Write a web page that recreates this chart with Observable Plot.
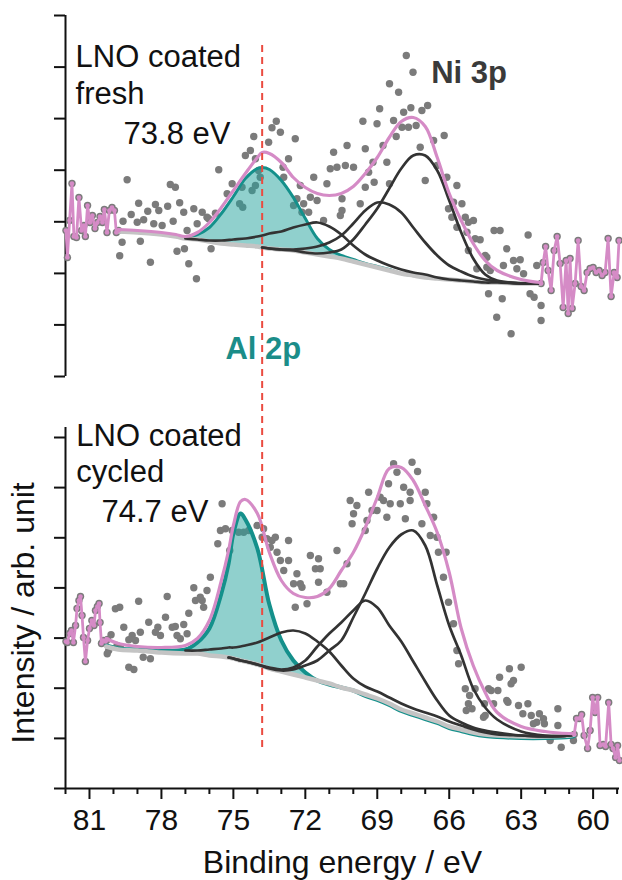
<!DOCTYPE html>
<html><head><meta charset="utf-8">
<script src="https://cdn.jsdelivr.net/npm/d3@7"></script>
<script src="https://cdn.jsdelivr.net/npm/@observablehq/plot@0.6"></script>
<style>
body{margin:0;background:#fff;}
#chart{position:relative;width:622px;height:880px;overflow:hidden;background:#fff;}
#chart svg{display:block;}
</style></head><body><div id="chart"></div>
<script>
// ---------- axis ticks ----------
const xDomain = [82, 58.9];
const xMajorTicks = [81, 78, 75, 72, 69, 66, 63, 60];
const xMinorTicks = [82, 80, 79, 77, 76, 74, 73, 71, 70, 68, 67, 65, 64, 62, 61, 59];
const freshYTicks = [0, 516, 1031, 1547, 2063, 2579, 3094, 3610];
const cycledYTicks = [0, 501, 1003, 1504, 2006, 2507, 3009, 3510];

// ---------- texts ----------
const freshLabels = ["LNO coated", "fresh", "73.8 eV"];
const cycledLabels = ["LNO coated", "cycled", "74.7 eV"];
const niLabel = "Ni 3p";
const alLabel = "Al 2p";
const xTitle = "Binding energy / eV";
const yTitle = "Intensity / arb. unit";

// ---------- LNO coated fresh: fit curves (binding energy eV -> intensity, arb.) ----------
const freshGrid = [79.8, 79, 78, 77.4, 77, 76.5, 76, 75.5, 75, 74.5, 74, 73.8, 73.5, 73, 72.5, 72, 71.5, 71, 70.5, 70, 69.5, 69, 68.5, 68, 67.5, 67, 66.5, 66, 65.5, 65, 64.5, 64, 63, 62.2];
const freshEnvelope = [1470, 1460, 1440, 1420, 1400, 1440, 1540, 1690, 1860, 2030, 2190, 2240, 2230, 2140, 1990, 1890, 1830, 1810, 1830, 1900, 2030, 2190, 2390, 2550, 2590, 2500, 2190, 1830, 1560, 1330, 1160, 1060, 970, 940];
const freshBackground = [1450, 1440, 1420, 1400, 1380, 1370, 1350, 1330, 1320, 1310, 1300, 1290, 1280, 1270, 1260, 1240, 1220, 1200, 1180, 1150, 1120, 1090, 1060, 1030, 1010, 990, 980, 970, 960, 950, 940, 940, 930, 930];
const freshAl2p = [1450, 1440, 1420, 1400, 1390, 1420, 1490, 1630, 1800, 1980, 2080, 2090, 2070, 1960, 1790, 1580, 1380, 1270, 1210, 1170, 1130, 1100, 1070, 1030, 1010, 990, 980, 970, 960, 950, 940, 940, 930, 930];
const freshNi3pA = [null, null, null, null, 1380, 1370, 1360, 1360, 1370, 1380, 1400, 1410, 1430, 1450, 1490, 1520, 1540, 1500, 1420, 1310, 1220, 1160, 1110, 1070, 1040, 1020, 990, 970, 960, 950, 940, 940, 930, 930];
const freshNi3pB = [null, null, null, null, null, null, null, null, null, null, null, 1290, 1280, 1270, 1270, 1280, 1300, 1340, 1410, 1530, 1660, 1740, 1720, 1640, 1490, 1340, 1210, 1110, 1050, 1000, 970, 950, 930, 930];
const freshNi3pC = [null, null, null, null, null, null, null, null, null, null, null, 1290, 1280, 1270, 1260, 1240, 1230, 1240, 1270, 1370, 1520, 1680, 1880, 2080, 2210, 2210, 2060, 1760, 1440, 1180, 1020, 960, 930, 930];

// ---------- LNO coated fresh: measured points [eV, intensity] ----------
const freshPoints = [
[79.43,1967],[77.63,1920],[77.42,1893],[78.95,1733],[78.25,1720],[77.74,1703],[77.24,1737],[79.26,1620],[78.57,1653],[78.11,1660],[76.65,1677],[76.30,1643],[79.60,1553],[79.01,1543],[78.74,1567],[78.32,1527],[77.97,1510],[77.51,1553],[77.07,1643],[76.51,1527],[76.10,1593],[79.64,1343],[78.88,1353],[79.74,1207],[78.46,1143],[77.35,1253],[77.04,1277],[76.86,1127],[76.54,977],[76.93,1460],
[73.21,2553],[73.39,2487],[73.04,2443],[72.42,2377],[74.15,2400],[73.53,2343],[74.50,2210],[74.29,2260],[74.08,2177],[72.70,2177],[72.93,2093],[75.61,2067],[73.95,2060],[73.88,1993],[75.05,1927],[74.64,1893],[74.22,1860],[74.08,1910],[74.74,1727],[74.61,1693],[75.26,1827],[75.75,1633],[76.03,1577],[75.93,1277],[72.90,1993],[72.21,1910],[72.35,1777],[72.07,1727],[71.79,1793],[71.65,1993],[71.51,1760],[71.10,1927],[70.82,2243],[70.26,2310],[70.96,2077],[70.68,2093],[70.33,2110],[70.47,1660],[72.14,1643],[71.86,1643],[71.24,1560],[72.49,1710],[69.71,1727],[70.54,1610],
[67.79,3210],[67.51,3043],[68.49,2927],[68.11,2843],[68.90,2677],[67.90,2643],[67.60,2687],[67.14,2660],[66.90,2710],[69.60,2553],[69.01,2527],[68.32,2560],[67.97,2493],[67.70,2493],[67.38,2510],[68.21,2400],[66.21,2410],[69.50,2277],[68.76,2310],[67.21,2293],[66.65,2360],[69.99,2093],[69.18,2143],[68.60,2143],[67.00,1960],[66.51,2110],[69.36,2043],[69.13,1943],[68.49,1927],[66.10,1993],[70.47,1777],[69.50,1893],[65.68,1910],[65.82,1743],[65.47,1727],[66.03,1677],[65.89,1593],[65.33,1593],[65.20,1543],[64.99,1560],[65.68,1493],[65.26,1443],[64.92,1377],[64.71,1367],[65.20,1260],[64.43,1193],[64.85,1077],[64.43,1093],[64.36,827],
[64.13,1460],[63.88,1460],[62.71,1415],[63.60,1277],[64.50,1210],[63.32,1160],[63.04,1167],[63.74,1110],[63.18,1077],[62.90,1027],[64.29,1060],[62.35,1110],[63.79,777],[64.02,593],[63.42,427],[62.17,560],[62.17,710],[62.63,827],[62.46,793]
];
const freshRawLow = [[81.98,1460],[81.92,1190],[81.83,1560],[81.73,1930],[81.65,1400],[81.54,1390],[81.44,1790],[81.33,1460],[81.23,1510],[81.17,1400],[81.08,1710],[80.98,1540],[80.88,1610],[80.77,1480],[80.67,1540],[80.56,1600],[80.46,1540],[80.38,1670],[80.27,1440],[80.17,1660],[80.06,1690],[79.96,1660],[79.88,1440],[79.79,1460]];
const freshRawHigh = [[62.17,930],[62.08,1140],[61.98,1300],[61.875,1060],[61.75,860],[61.625,1260],[61.5,1400],[61.375,1130],[61.25,690],[61.125,1160],[61.04,630],[60.96,1180],[60.875,680],[60.75,930],[60.625,1360],[60.5,900],[60.375,860],[60.25,1040],[60.125,1080],[60.0,1090],[59.875,1040],[59.75,1060],[59.625,1010],[59.5,1040],[59.375,1380],[59.25,800],[59.125,1040],[59.0,990],[58.92,1360]];

// ---------- LNO coated cycled: fit curves ----------
const cycledGrid = [80.3, 79.8, 79, 78, 77, 76.5, 76, 75.5, 75.2, 75, 74.7, 74.5, 74, 73.5, 73, 72.5, 72, 71.5, 71, 70.5, 70, 69.5, 69, 68.5, 68, 67.5, 67, 66.5, 66, 65.5, 65, 64.5, 64, 63, 62, 61, 60.8];
const cycledEnvelope = [1500, 1450, 1420, 1410, 1430, 1500, 1680, 2080, 2380, 2630, 2870, 2890, 2750, 2360, 2080, 1950, 1910, 1920, 2000, 2180, 2360, 2610, 2910, 3200, 3210, 3080, 2830, 2560, 2160, 1600, 1230, 960, 760, 620, 570, 550, 550];
const cycledBackground = [1420, 1390, 1380, 1360, 1350, 1350, 1330, 1320, 1310, 1300, 1280, 1270, 1240, 1200, 1170, 1140, 1110, 1080, 1050, 1010, 980, 940, 900, 850, 790, 750, 710, 670, 620, 590, 560, 540, 530, 520, 520, 530, 540];
const cycledAl2p = [1430, 1400, 1390, 1380, 1390, 1460, 1600, 1950, 2250, 2550, 2750, 2690, 2400, 1840, 1480, 1280, 1160, 1080, 1040, 1010, 980, 925, 885, 835, 775, 735, 695, 655, 605, 575, 545, 525, 515, 505, 505, 515, 525];
const cycledNi3pA = [null, null, null, null, 1380, 1380, 1390, 1400, 1410, 1410, 1420, 1430, 1460, 1510, 1560, 1580, 1550, 1470, 1370, 1230, 1100, 1020, 970, 910, 850, 800, 760, 720, 670, 630, 590, 560, 540, 530, 520, 530, 540];
const cycledNi3pB = [null, null, null, null, null, null, null, null, 1310, 1300, 1280, 1270, 1240, 1210, 1190, 1210, 1280, 1420, 1550, 1660, 1780, 1880, 1810, 1630, 1470, 1270, 1070, 880, 730, 660, 610, 580, 560, 530, 520, 530, 540];
const cycledNi3pC = [null, null, null, null, null, null, null, null, 1310, 1300, 1280, 1270, 1240, 1200, 1180, 1190, 1230, 1280, 1380, 1480, 1710, 1950, 2200, 2410, 2540, 2580, 2430, 2030, 1630, 1330, 1000, 810, 690, 570, 530, 530, 540];

// ---------- LNO coated cycled: measured points ----------
const cycledPoints = [
[76.65,2007],[77.76,1920],[78.95,1873],[79.92,1797],[79.74,1813],[76.58,1880],[78.53,1663],[79.57,1613],[77.83,1713],[76.86,1753],[77.42,1620],[77.55,1613],[77.07,1640],[78.15,1613],[78.88,1563],[79.22,1530],[78.25,1563],[78.04,1530],[77.35,1530],[80.10,1537],[77.21,1497],[76.93,1547],[79.36,1487],[79.08,1480],[79.85,1430],[79.71,1413],[80.20,1380],[78.76,1313],[78.46,1297],[80.26,1347],[79.36,1213],[79.15,1190],[76.30,1880],
[75.47,2847],[75.54,2580],[75.33,2597],[75.05,2580],[75.65,2447],[75.15,2380],[76.10,1980],[76.24,1813],[75.96,2113],[76.38,1913],[74.78,2563],[74.57,2563],[74.36,2580],[74.01,2630],[73.74,2597],[73.80,2513],[73.60,2497],[73.39,2480],[73.25,2513],[72.70,2480],[73.46,2413],[73.18,2363],[73.04,2280],[72.70,2280],[72.90,2180],[72.35,2147],[72.21,2047],[72.49,2047],[72.14,2013],[71.79,2330],[71.45,2297],[71.58,2197],[71.38,2197],[71.45,2063],[72.42,1813],[71.93,1847],[71.10,1963],[70.68,2380],[70.40,2047],
[68.32,3247],[67.55,3263],[68.18,3163],[67.32,3170],[68.53,3047],[67.90,3013],[69.36,2963],[68.88,2913],[68.74,2880],[67.63,2963],[67.00,2963],[68.46,2847],[68.04,2847],[67.63,2880],[70.13,2880],[69.85,2830],[69.22,2780],[69.01,2780],[66.93,2847],[69.99,2747],[69.43,2680],[68.60,2713],[67.83,2697],[67.14,2647],[66.65,2713],[70.05,2647],[69.50,2580],[66.79,2530],[66.51,2513],[66.45,2363],[66.13,2363],[66.24,2113],[66.03,1863],[65.82,1647],[65.68,1380],[65.61,1247],[65.33,997],[64.92,997],[65.20,847],[65.05,797],[64.57,713],[70.54,2047],[70.26,2247],
[65.15,930],[65.29,780],[64.25,980],[63.97,980],[63.90,1113],[63.49,1197],[63.00,1213],[63.42,1047],[64.53,847],[63.55,863],[62.72,847],[62.93,747],[62.58,730],[62.24,747],[62.03,647],[61.47,797],[61.47,630],[61.33,413],[63.32,1080],[64.36,997],[63.60,880],[64.15,847],[63.11,830],[64.50,730],[62.07,697],[62.35,663],[62.49,647],[61.79,480],[60.82,480]
];
const cycledRawLow = [[81.98,1470],[81.92,1460],[81.83,1550],[81.75,1580],[81.67,1460],[81.58,1630],[81.52,1800],[81.44,1880],[81.375,1920],[81.31,1730],[81.25,1510],[81.17,1270],[81.08,1480],[81.0,1600],[80.90,1680],[80.81,1630],[80.75,1780],[80.67,1820],[80.60,1850],[80.56,1660],[80.5,1450],[80.42,1480],[80.33,1470],[80.25,1490]];
const cycledRawHigh = [[60.79,540],[60.69,700],[60.58,700],[60.48,740],[60.375,530],[60.23,400],[60.125,580],[60.02,910],[59.92,760],[59.81,910],[59.71,430],[59.58,440],[59.48,420],[59.35,860],[59.25,440],[59.17,400],[59.06,310],[58.98,430],[58.90,280]];

// ---------- styling ----------
const FONT = '"Liberation Sans", Arial, Helvetica, sans-serif';
const COL = {pink: "#d58bc6", teal: "#14908b", fill: "#22a29c", dots: "#7b7b7b", comp: "#333333", bg: "#c4c4c4", red: "#ea4b40", al: "#1b8d89", ni: "#3a3a3a", ink: "#111111"};
const curve = "catmull-rom";

function curveData(grid, vals) {
  return grid.map((x, i) => ({x, y: vals[i]})).filter(d => d.y != null);
}

function panelMarks(o) {
  const px = d => d[0], py = d => d[1];
  const m = [];
  m.push(Plot.ruleX([82], {y1: 0, y2: o.axisTop, stroke: COL.ink, strokeWidth: 2}));
  m.push(Plot.axisY(o.yTicks, {anchor: "left", tickSize: 11, tickFormat: () => "", stroke: COL.ink, strokeWidth: 2, label: null}));
  m.push(Plot.dot([...o.points, ...o.rawLow, ...o.rawHigh], {x: px, y: py, r: 3.7, fill: COL.dots}));
  m.push(Plot.areaY(o.grid.map((x, i) => ({x, y1: o.bg[i], y2: o.al[i]})), {x: "x", y1: "y1", y2: "y2", fill: COL.fill, fillOpacity: 0.5, curve}));
  m.push(Plot.line(curveData(o.grid, o.al), {x: "x", y: "y", stroke: COL.teal, strokeWidth: o.tealWidth, curve}));
  m.push(Plot.line(curveData(o.grid, o.bg), {x: "x", y: "y", stroke: COL.bg, strokeWidth: 4.5, curve}));
  for (const c of o.comps) m.push(Plot.line(curveData(o.grid, c), {x: "x", y: "y", stroke: COL.comp, strokeWidth: 2.7, curve}));
  m.push(Plot.line(curveData(o.grid, o.env), {x: "x", y: "y", stroke: COL.pink, strokeWidth: 3.2, curve}));
  for (const raw of [o.rawLow, o.rawHigh]) {
    m.push(Plot.line(raw, {x: px, y: py, stroke: COL.pink, strokeWidth: 2.8}));
    m.push(Plot.dot(raw, {x: px, y: py, r: 2.3, fill: COL.pink}));
  }
  m.push(Plot.ruleX([73.8], {y1: o.dash[0], y2: o.dash[1], stroke: COL.red, strokeWidth: 2, strokeDasharray: "7,5"}));
  return m;
}

const txt = (s, x, y, extra = {}) => Plot.text([s], {x, y, text: d => d, textAnchor: "start", lineAnchor: "bottom", fontSize: 31, fill: COL.ink, ...extra});

const topPlot = Plot.plot({
  width: 622, height: 400,
  marginLeft: 65, marginRight: 3, marginTop: 15, marginBottom: 24,
  style: {fontFamily: FONT, background: "white"},
  x: {domain: xDomain, axis: null},
  y: {domain: [0, 3610], axis: null},
  marks: [
    ...panelMarks({grid: freshGrid, env: freshEnvelope, bg: freshBackground, al: freshAl2p, comps: [freshNi3pA, freshNi3pB, freshNi3pC], points: freshPoints, rawLow: freshRawLow, rawHigh: freshRawHigh, yTicks: freshYTicks, axisTop: 3610, tealWidth: 3, dash: [3310, -400]}),
    txt(freshLabels[0], 81.58, 3100),
    txt(freshLabels[1], 81.58, 2730),
    txt(freshLabels[2], 79.58, 2330),
    txt(niLabel, 66.75, 2940, {fontWeight: "bold", fill: COL.ni}),
    txt(alLabel, 75.33, 180, {fontWeight: "bold", fill: COL.al})
  ]
});

const bottomPlot = Plot.plot({
  width: 622, height: 480,
  marginLeft: 65, marginRight: 3, marginTop: 37, marginBottom: 92,
  style: {fontFamily: FONT, background: "white"},
  x: {domain: xDomain, axis: null},
  y: {domain: [0, 3510], axis: null},
  marks: [
    ...panelMarks({grid: cycledGrid, env: cycledEnvelope, bg: cycledBackground, al: cycledAl2p, comps: [cycledNi3pA, cycledNi3pB, cycledNi3pC], points: cycledPoints, rawLow: cycledRawLow, rawHigh: cycledRawHigh, yTicks: cycledYTicks, axisTop: 3610, tealWidth: 4, dash: [4200, 380]}),
    Plot.ruleY([0], {stroke: COL.ink, strokeWidth: 2}),
    Plot.axisX(xMinorTicks, {anchor: "bottom", tickSize: 6, tickFormat: () => "", stroke: COL.ink, strokeWidth: 2, label: null}),
    Plot.axisX(xMajorTicks, {anchor: "bottom", tickSize: 11, tickPadding: 9, fontSize: 30, stroke: COL.ink, strokeWidth: 2, fill: COL.ink, label: null, tickFormat: d => String(d)}),
    txt(cycledLabels[0], 81.55, 3430),
    txt(cycledLabels[1], 81.55, 3070),
    txt(cycledLabels[2], 80.5, 2670),
    Plot.text([xTitle], {frameAnchor: "bottom", dy: 62, lineAnchor: "top", textAnchor: "middle", text: d => d, fontSize: 32, fill: COL.ink}),
    Plot.text([yTitle], {frameAnchor: "left", dx: -32, rotate: -90, lineAnchor: "bottom", textAnchor: "middle", text: d => d, fontSize: 32, fill: COL.ink})
  ]
});

const chart = document.getElementById("chart");
chart.append(topPlot, bottomPlot);
</script>
</body></html>
